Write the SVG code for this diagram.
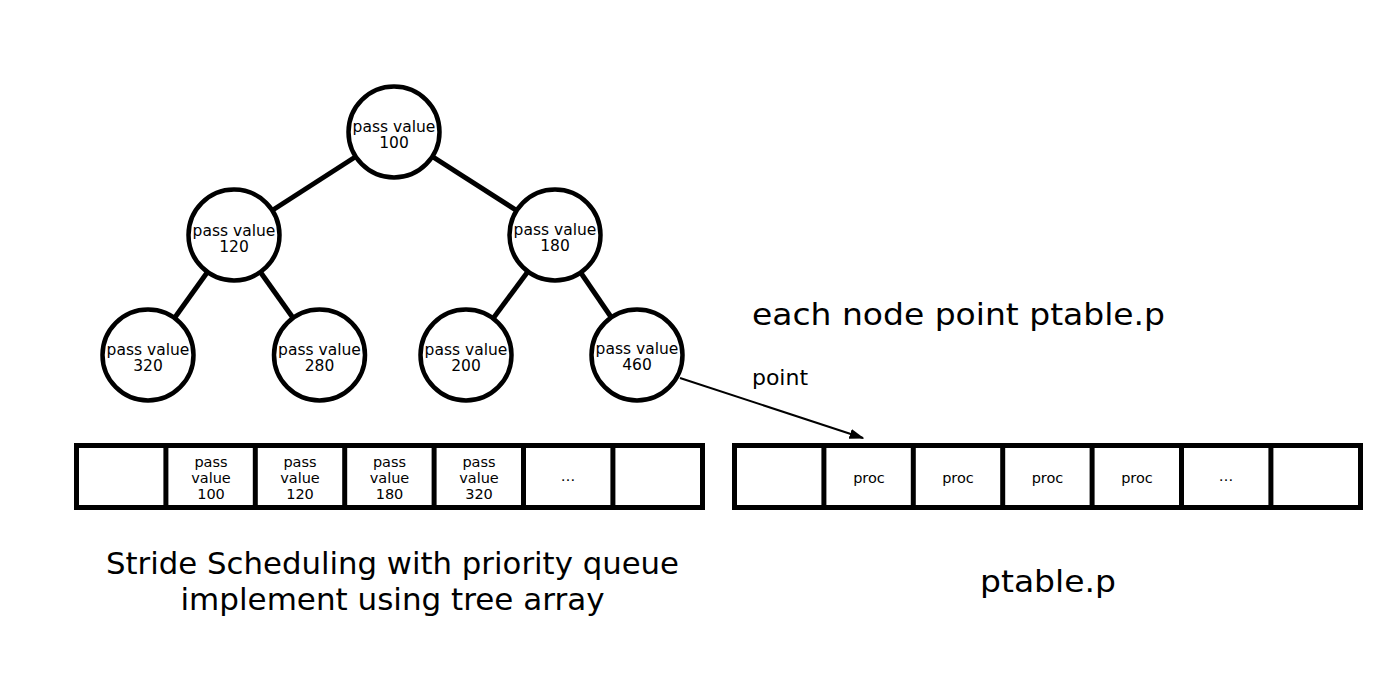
<svg xmlns="http://www.w3.org/2000/svg" width="1390" height="678" viewBox="0 0 1390 678">
<defs>
<style>
text{font-family:"DejaVu Sans","Liberation Sans",sans-serif;fill:#000;text-anchor:middle}
.node circle{fill:#fff;stroke:#000;stroke-width:4.5}
.node text{font-size:15.5px}
.edge{stroke:#000;stroke-width:5}
.cell{fill:#fff;stroke:#000;stroke-width:5}
.ct{font-size:14.5px}
.big{font-size:31px}
</style>
<marker id="ah" viewBox="0 0 10 10" refX="9" refY="5" markerWidth="15" markerHeight="15" markerUnits="userSpaceOnUse" orient="auto"><path d="M0,1.6L10,5L0,8.4z" fill="#000"/></marker>
</defs>
<rect width="1390" height="678" fill="#fff"/>
<g id="connectors">
<line class="edge" x1="394" y1="132" x2="234" y2="235"/>
<line class="edge" x1="394" y1="132" x2="555" y2="235"/>
<line class="edge" x1="234" y1="235" x2="148" y2="355"/>
<line class="edge" x1="234" y1="235" x2="319.5" y2="355"/>
<line class="edge" x1="555" y1="235" x2="466" y2="355"/>
<line class="edge" x1="555" y1="235" x2="637" y2="355"/>
<line x1="680" y1="378" x2="863" y2="438" stroke="#000" stroke-width="2" marker-end="url(#ah)"/>
</g>
<g id="n100" class="node"><circle cx="394" cy="132" r="45.5"/><text x="394" y="132">pass value</text><text x="394" y="148">100</text></g>
<g id="n120" class="node"><circle cx="234" cy="235" r="45.5"/><text x="234" y="236">pass value</text><text x="234" y="252">120</text></g>
<g id="n180" class="node"><circle cx="555" cy="235" r="45.5"/><text x="555" y="235">pass value</text><text x="555" y="251">180</text></g>
<g id="n320" class="node"><circle cx="148" cy="355" r="45.5"/><text x="148" y="355">pass value</text><text x="148" y="371">320</text></g>
<g id="n280" class="node"><circle cx="319.5" cy="355" r="45.5"/><text x="319.5" y="355">pass value</text><text x="319.5" y="371">280</text></g>
<g id="n200" class="node"><circle cx="466" cy="355" r="45.5"/><text x="466" y="355">pass value</text><text x="466" y="371">200</text></g>
<g id="n460" class="node"><circle cx="637" cy="355" r="45.5"/><text x="637" y="354">pass value</text><text x="637" y="370">460</text></g>
<g id="heap-array">
<rect class="cell" x="76.5" y="445.5" width="626" height="62"/>
<line class="edge" x1="165.9" y1="445.5" x2="165.9" y2="507.5"/>
<line class="edge" x1="255.3" y1="445.5" x2="255.3" y2="507.5"/>
<line class="edge" x1="344.7" y1="445.5" x2="344.7" y2="507.5"/>
<line class="edge" x1="434.1" y1="445.5" x2="434.1" y2="507.5"/>
<line class="edge" x1="523.5" y1="445.5" x2="523.5" y2="507.5"/>
<line class="edge" x1="612.9" y1="445.5" x2="612.9" y2="507.5"/>
<g class="ct">
<text x="211" y="467">pass</text><text x="211" y="483">value</text><text x="211" y="499">100</text>
<text x="300" y="467">pass</text><text x="300" y="483">value</text><text x="300" y="499">120</text>
<text x="389.5" y="467">pass</text><text x="389.5" y="483">value</text><text x="389.5" y="499">180</text>
<text x="479" y="467">pass</text><text x="479" y="483">value</text><text x="479" y="499">320</text>
<text x="568" y="481">…</text>
</g>
</g>
<g id="ptable-array">
<rect class="cell" x="734.5" y="445.5" width="626" height="62"/>
<line class="edge" x1="823.9" y1="445.5" x2="823.9" y2="507.5"/>
<line class="edge" x1="913.3" y1="445.5" x2="913.3" y2="507.5"/>
<line class="edge" x1="1002.7" y1="445.5" x2="1002.7" y2="507.5"/>
<line class="edge" x1="1092.1" y1="445.5" x2="1092.1" y2="507.5"/>
<line class="edge" x1="1181.5" y1="445.5" x2="1181.5" y2="507.5"/>
<line class="edge" x1="1270.9" y1="445.5" x2="1270.9" y2="507.5"/>
<g class="ct">
<text x="869" y="483">proc</text>
<text x="958" y="483">proc</text>
<text x="1047.5" y="483">proc</text>
<text x="1137" y="483">proc</text>
<text x="1226" y="481">…</text>
</g>
</g>
<text class="big" x="958.5" y="325" textLength="413" lengthAdjust="spacingAndGlyphs">each node point ptable.p</text>
<text x="780" y="385" style="font-size:22px">point</text>
<text class="big" x="392.5" y="574" textLength="573" lengthAdjust="spacingAndGlyphs">Stride Scheduling with priority queue</text>
<text class="big" x="392.5" y="610" textLength="424" lengthAdjust="spacingAndGlyphs">implement using tree array</text>
<text class="big" x="1048" y="592" textLength="136" lengthAdjust="spacingAndGlyphs">ptable.p</text>
</svg>
